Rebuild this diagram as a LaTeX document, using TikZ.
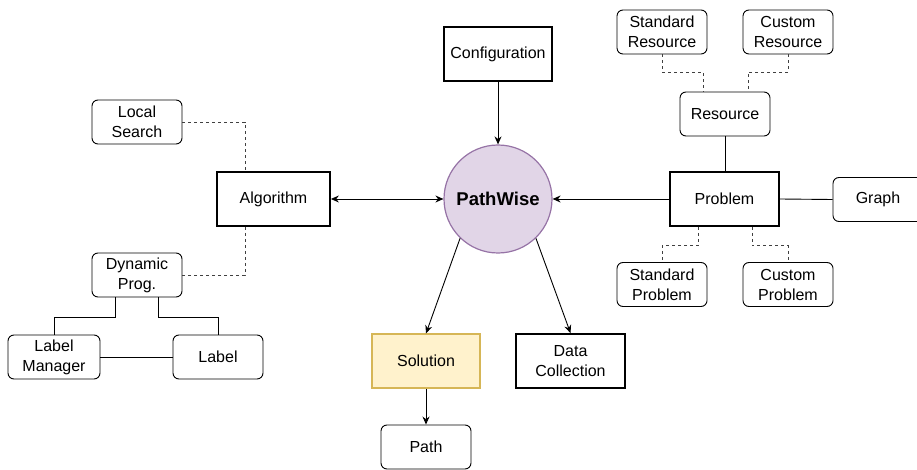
\documentclass[tikz,border=0pt]{standalone}
\usepackage{fontspec}
\setmainfont{Liberation Sans}
\usetikzlibrary{arrows.meta}
\definecolor{pwfill}{HTML}{E1D5E7}
\definecolor{pwdraw}{HTML}{9673A6}
\definecolor{solfill}{HTML}{FFF2CC}
\definecolor{soldraw}{HTML}{D6B656}
\begin{document}
\begin{tikzpicture}[x=1pt,y=-1pt,
  every node/.style={font=\fontsize{16}{20}\selectfont, align=center, inner sep=0pt},
  thickbox/.style={draw=black, line width=1.8pt, minimum width=108pt, minimum height=54pt},
  softbox/.style={draw=black, line width=0.9pt, rounded corners=6pt, minimum width=90pt, minimum height=44pt},
  conn/.style={draw=black, line width=0.9pt},
  dashconn/.style={draw=black!75, line width=0.9pt, dash pattern=on 3pt off 3pt},
  arr/.style={conn, -{Stealth[length=8pt,width=7pt]}},
  darr/.style={conn, {Stealth[length=8pt,width=7pt]}-{Stealth[length=8pt,width=7pt]}}
]
\useasboundingbox (0,0) rectangle (917,470);

% central
\node[circle, draw=pwdraw, fill=pwfill, line width=1.2pt, minimum size=108pt,
      font=\fontsize{18.5}{22}\selectfont\bfseries] (pw) at (498,199) {PathWise};
\node[thickbox] (conf) at (498,54) {Configuration};
\node[thickbox, minimum width=113pt] (alg) at (273.5,199) {Algorithm};
\node[thickbox, minimum width=109pt] (prob) at (724.5,199) {Problem};

% problem cluster
\node[softbox] (graph) at (878,199.5) {Graph};
\node[softbox] (res) at (725,114) {Resource};
\node[softbox] (sr) at (662,32) {Standard\\Resource};
\node[softbox] (cr) at (788,32) {Custom\\Resource};
\node[softbox] (sp) at (662,284.5) {Standard\\Problem};
\node[softbox] (cp) at (788,284.5) {Custom\\Problem};

% algorithm cluster
\node[softbox] (ls) at (137,122) {Local\\Search};
\node[softbox] (dp) at (137,275) {Dynamic\\Prog.};
\node[softbox, minimum width=92pt] (lm) at (54,357) {Label\\Manager};
\node[softbox] (lab) at (218,357) {Label};

% outputs
\node[thickbox, draw=soldraw, fill=solfill, line width=1.2pt] (sol) at (426,361) {Solution};
\node[thickbox, minimum width=109pt] (dc) at (570.5,361) {Data\\Collection};
\node[softbox] (path) at (426,447) {Path};

% connectors
\draw[arr] (conf.south) -- (pw.north);
\draw[darr] (alg.east) -- (pw.west);
\draw[arr] (prob.west) -- (pw.east);
\draw[conn] (prob.east) -- (graph.west);
\draw[conn] (res.south) -- (res.south |- prob.north);
\draw[arr] (pw.226) -- (sol.north);
\draw[arr] (pw.314) -- (dc.north);
\draw[arr] (sol.south) -- (path.north);

\draw[dashconn] (sr.south) -- ++(0,18) -| ([xshift=-22pt]res.north);
\draw[dashconn] (cr.south) -- ++(0,18) -| ([xshift=23pt]res.north);
\draw[dashconn] ([xshift=-26.5pt]prob.south) -- ++(0,19) -| (sp.north);
\draw[dashconn] ([xshift=27.5pt]prob.south) -- ++(0,19) -| (cp.north);

\draw[dashconn] (ls.east) -| ([xshift=-28.5pt]alg.north);
\draw[dashconn] ([xshift=-28.5pt]alg.south) |- (dp.east);
\draw[conn] ([xshift=-22pt]dp.south) -- ++(0,20) -| (lm.north);
\draw[conn] ([xshift=21pt]dp.south) -- ++(0,20) -| (lab.north);
\draw[conn] (lm.east) -- (lab.west);
\end{tikzpicture}
\end{document}
